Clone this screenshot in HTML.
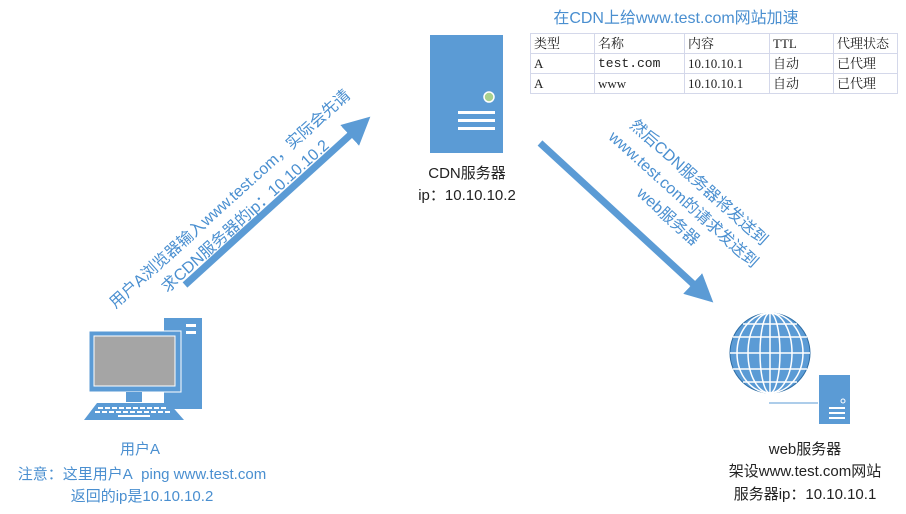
<!DOCTYPE html>
<html><head><meta charset="utf-8"><style>
body{margin:0;width:906px;height:514px;background:#fff;position:relative;overflow:hidden;font-family:"Liberation Sans","Noto Sans CJK SC",sans-serif;color:#2e75b6}
.t{position:absolute;font-size:15px;white-space:nowrap;text-align:center;transform:translateX(-50%)}
table{position:absolute;left:530px;top:33px;border-collapse:collapse;font-family:"Liberation Serif","Noto Serif CJK SC",serif;font-size:13px;color:#222}
td{border:1px solid #d4d8ea;height:19px;padding:0 3px;line-height:19px}
.r{position:absolute;font-size:16px;white-space:nowrap;text-align:center;line-height:23px;color:#4a8fd0}
</style></head><body>
<svg width="906" height="514" style="position:absolute;left:0;top:0">
<defs><marker id="a" markerWidth="4" markerHeight="4" refX="2" refY="2" orient="auto"><path d="M0,0L4,2L0,4Z" fill="#5b9bd5"/></marker></defs>
<line x1="185" y1="285" x2="360" y2="126" stroke="#5b9bd5" stroke-width="7" marker-end="url(#a)"/>
<line x1="540" y1="143" x2="703" y2="293" stroke="#5b9bd5" stroke-width="7" marker-end="url(#a)"/>
<rect x="430" y="35" width="73" height="118" fill="#5b9bd5"/>
<circle cx="489" cy="97" r="5" fill="#a9d18e" stroke="#fff" stroke-width="1.5"/>
<rect x="458" y="111" width="37" height="3" fill="#fff"/><rect x="458" y="119" width="37" height="3" fill="#fff"/><rect x="458" y="127" width="37" height="3" fill="#fff"/>
<rect x="164" y="318" width="38" height="91" fill="#5b9bd5"/>
<rect x="186" y="324" width="10" height="3" fill="#fff"/><rect x="186" y="331" width="10" height="3" fill="#fff"/>
<rect x="89" y="331" width="92" height="61" fill="#5b9bd5" stroke="#fff" stroke-width="1"/>
<rect x="94" y="336" width="81" height="50" fill="#a5a5a5" stroke="#fff" stroke-width="1"/>
<rect x="126" y="392" width="16" height="10" fill="#5b9bd5"/>
<path d="M97,403L169,403L184,420L84,420Z" fill="#5b9bd5"/>
<g stroke="#fff" stroke-width="2"><line x1="98" y1="408" x2="168" y2="408" stroke-dasharray="5,2"/><line x1="95" y1="412" x2="172" y2="412" stroke-dasharray="5,2"/><line x1="118" y1="416" x2="150" y2="416"/></g>
<g>
<circle cx="770" cy="353" r="40" fill="#5b9bd5" stroke="#2e6da4" stroke-width="1"/>
<g fill="none" stroke="#fff" stroke-width="1.5">
<ellipse cx="770" cy="353" rx="10" ry="40"/><ellipse cx="770" cy="353" rx="22" ry="40"/><ellipse cx="770" cy="353" rx="33" ry="40"/>
<line x1="770" y1="313" x2="770" y2="393"/>
<line x1="733" y1="337" x2="807" y2="337"/><line x1="730" y1="353" x2="810" y2="353"/><line x1="733" y1="369" x2="807" y2="369"/>
<line x1="743" y1="324" x2="797" y2="324"/><line x1="743" y1="382" x2="797" y2="382"/>
</g></g>
<line x1="769" y1="403" x2="818" y2="403" stroke="#5b9bd5" stroke-width="1"/>
<rect x="819" y="375" width="31" height="49" fill="#5b9bd5"/>
<circle cx="843" cy="401" r="2" fill="none" stroke="#fff"/>
<rect x="829" y="407" width="16" height="2" fill="#fff"/><rect x="829" y="412" width="16" height="2" fill="#fff"/><rect x="829" y="417" width="16" height="2" fill="#fff"/>
</svg>
<div class="t" style="left:676px;top:4px;font-size:16px;color:#4a8fd0">在CDN上给www.test.com网站加速</div>
<table>
<tr><td style="width:57px">类型</td><td style="width:83px">名称</td><td style="width:78px">内容</td><td style="width:57px">TTL</td><td style="width:57px">代理状态</td></tr>
<tr><td>A</td><td style="font-family:'Liberation Mono',monospace">test.com</td><td>10.10.10.1</td><td>自动</td><td>已代理</td></tr>
<tr><td>A</td><td>www</td><td>10.10.10.1</td><td>自动</td><td>已代理</td></tr>
</table>
<div class="t" style="left:467px;top:162px;color:#222">CDN服务器</div>
<div class="t" style="left:467px;top:184px;color:#222">ip：10.10.10.2</div>
<div class="r" style="left:238px;top:208px;transform:translate(-50%,-50%) rotate(-42deg)">用户A浏览器输入www.test.com，实际会先请<br>求CDN服务器的ip：10.10.10.2</div>
<div class="r" style="left:683px;top:200px;transform:translate(-50%,-50%) rotate(42deg)">然后CDN服务器将发送到<br>www.test.com的请求发送到<br>web服务器</div>
<div class="t" style="left:140px;top:438px;color:#4a8fd0">用户A</div>
<div class="t" style="left:142px;top:463px;color:#4a8fd0">注意：这里用户A&nbsp; ping www.test.com</div>
<div class="t" style="left:142px;top:485px;color:#4a8fd0">返回的ip是10.10.10.2</div>
<div class="t" style="left:805px;top:438px;color:#222">web服务器</div>
<div class="t" style="left:805px;top:460px;color:#222">架设www.test.com网站</div>
<div class="t" style="left:805px;top:483px;color:#222">服务器ip：10.10.10.1</div>
</body></html>
